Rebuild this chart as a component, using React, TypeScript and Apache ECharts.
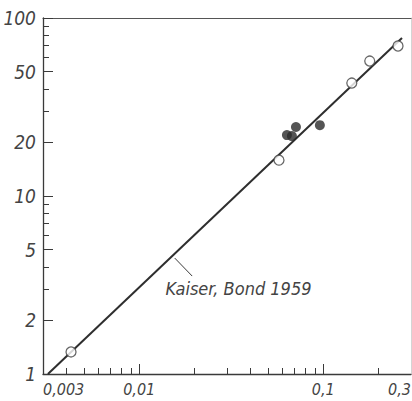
import React, { useEffect, useRef } from "react";
import * as echarts from "echarts";

// Axis ticks and labels (data units)
const xLabelVals = [0.003, 0.01, 0.1, 0.3];
const xMajorTicks = [0.01, 0.1];
const xMinorTicks = [0.004, 0.005, 0.006, 0.007, 0.008, 0.009, 0.02, 0.03, 0.04, 0.05, 0.06, 0.07, 0.08, 0.09, 0.2];
const yLabelVals = [1, 2, 5, 10, 20, 50, 100];
const yMinorTicks = [3, 4, 6, 7, 8, 9, 30, 40, 60, 70, 80, 90];
const xRange = [0.003, 0.3];
const yRange = [1, 100];

// Open circles
const openX = [0.00426, 0.0575, 0.143, 0.179, 0.255];
const openY = [1.33, 15.9, 43.1, 57.3, 69.6];
// Filled circles
const filledX = [0.0635, 0.0676, 0.0711, 0.0959];
const filledY = [22.0, 21.7, 24.4, 25.0];
// Fit line (Kaiser, Bond 1959)
const fitX = [0.00319, 0.268];
const fitY = [1, 77.2];
// Annotation
const annotText = "Kaiser, Bond 1959";
const leaderX = [0.0156, 0.0194];
const leaderY = [4.48, 3.55];
const annotX = 0.0139;
const annotY = 3.04;

const L = (v: number) => Math.log10(v);
const FONT = "'Liberation Sans Narrow', 'DejaVu Sans Condensed', 'Liberation Sans', sans-serif";
const INK = "#3a3a3a";

const makeFmt = (vals: number[]) => (v: number) => {
  let best = vals[0];
  for (const c of vals) if (Math.abs(L(c) - v) < Math.abs(L(best) - v)) best = c;
  return String(best).replace(".", ",");
};

export default function App() {
  const ref = useRef<HTMLDivElement>(null);
  useEffect(() => {
    if (!ref.current) return;
    const chart = echarts.init(ref.current, undefined, { renderer: "svg" });
    const xmin = L(xRange[0]);
    const xmax = L(xRange[1]);
    const ymin = L(yRange[0]);
    const ymax = L(yRange[1]);
    const baseX = { type: "value", min: xmin, max: xmax, splitLine: { show: false } };
    const baseY = { type: "value", min: ymin, max: ymax, splitLine: { show: false } };
    const option: any = {
      animation: false,
      backgroundColor: "#ffffff",
      grid: { left: 43, right: 1, top: 18, bottom: 27, containLabel: false, outerBoundsMode: "none" },
      xAxis: [
        {
          ...baseX,
          position: "bottom",
          axisLine: { show: true, onZero: false, lineStyle: { color: INK, width: 1.3 } },
          axisTick: {
            show: true,
            inside: true,
            length: 6,
            customValues: xMinorTicks.map(L),
            lineStyle: { color: INK, width: 1 },
          },
          axisLabel: {
            show: true,
            customValues: xLabelVals.map(L),
            formatter: makeFmt(xLabelVals),
            fontFamily: FONT,
            fontStyle: "italic",
            fontSize: 16,
            color: "#444",
            margin: 7,
            alignMinLabel: "left",
            alignMaxLabel: "right",
          },
        },
        {
          ...baseX,
          position: "bottom",
          axisLine: { show: false, onZero: false },
          axisTick: {
            show: true,
            inside: true,
            length: 10,
            customValues: xMajorTicks.map(L),
            lineStyle: { color: INK, width: 1 },
          },
          axisLabel: { show: false },
        },
        {
          ...baseX,
          position: "top",
          axisLine: { show: true, onZero: false, lineStyle: { color: "#555", width: 1.2 } },
          axisTick: { show: false },
          axisLabel: { show: false },
        },
      ],
      yAxis: [
        {
          ...baseY,
          position: "left",
          axisLine: { show: true, onZero: false, lineStyle: { color: INK, width: 1.3 } },
          axisTick: {
            show: true,
            inside: true,
            length: 10,
            customValues: yLabelVals.map(L),
            lineStyle: { color: INK, width: 1 },
          },
          axisLabel: {
            show: true,
            customValues: yLabelVals.map(L),
            formatter: makeFmt(yLabelVals),
            fontFamily: FONT,
            fontStyle: "italic",
            fontSize: 19,
            color: "#444",
            margin: 7,
          },
        },
        {
          ...baseY,
          position: "left",
          axisLine: { show: false, onZero: false },
          axisTick: {
            show: true,
            inside: true,
            length: 6,
            customValues: yMinorTicks.map(L),
            lineStyle: { color: INK, width: 1 },
          },
          axisLabel: { show: false },
        },
        {
          ...baseY,
          position: "right",
          axisLine: { show: true, onZero: false, lineStyle: { color: "#d4d4d4", width: 1 } },
          axisTick: { show: false },
          axisLabel: { show: false },
        },
      ],
      series: [
        {
          type: "line",
          xAxisIndex: 0,
          yAxisIndex: 0,
          data: fitX.map((x, i) => [L(x), L(fitY[i])]),
          showSymbol: false,
          symbol: "none",
          lineStyle: { color: "#2e2e2e", width: 2 },
          z: 2,
          markLine: {
            silent: true,
            symbol: ["none", "none"],
            label: { show: false },
            lineStyle: { color: INK, width: 1, type: "solid" },
            data: [
              [
                { coord: [L(leaderX[0]), L(leaderY[0])] },
                { coord: [L(leaderX[1]), L(leaderY[1])] },
              ],
            ],
          },
          markPoint: {
            silent: true,
            symbol: "circle",
            symbolSize: 0,
            data: [
              {
                coord: [L(annotX), L(annotY)],
                label: {
                  show: true,
                  position: "right",
                  distance: 0,
                  formatter: annotText,
                  fontFamily: FONT,
                  fontStyle: "italic",
                  fontSize: 18,
                  color: "#444",
                },
              },
            ],
          },
        },
        {
          type: "scatter",
          xAxisIndex: 0,
          yAxisIndex: 0,
          data: openX.map((x, i) => [L(x), L(openY[i])]),
          symbol: "circle",
          symbolSize: 10,
          itemStyle: { color: "#ffffff", borderColor: "#444", borderWidth: 1.3 },
          z: 3,
        },
        {
          type: "scatter",
          xAxisIndex: 0,
          yAxisIndex: 0,
          data: filledX.map((x, i) => [L(x), L(filledY[i])]),
          symbol: "circle",
          symbolSize: 10,
          itemStyle: { color: "#2b2b2b" },
          z: 3,
        },
      ],
    };
    chart.setOption(option);
    return () => chart.dispose();
  }, []);
  return (
    <div
      ref={ref}
      style={{ position: "fixed", left: 0, top: 0, width: 412, height: 401, background: "#fff" }}
    />
  );
}
